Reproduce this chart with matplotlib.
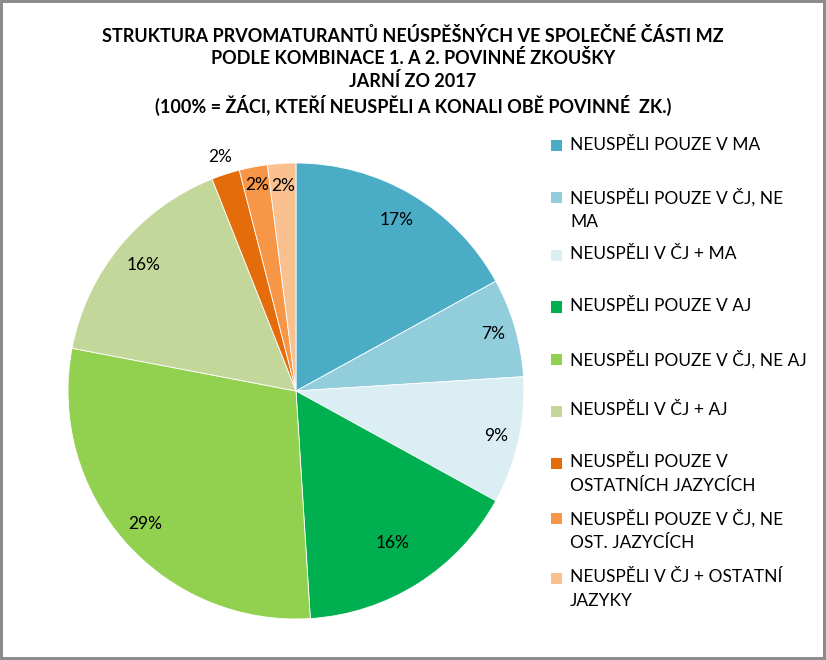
import numpy as np
import matplotlib.pyplot as plt

plt.rcParams['font.family'] = ['Lato', 'DejaVu Sans']

# data
labels = ['NEUSPĚLI POUZE V MA', 'NEUSPĚLI POUZE V ČJ, NE\nMA', 'NEUSPĚLI V ČJ + MA',
          'NEUSPĚLI POUZE V AJ', 'NEUSPĚLI POUZE V ČJ, NE AJ', 'NEUSPĚLI V ČJ + AJ',
          'NEUSPĚLI POUZE V\nOSTATNÍCH JAZYCÍCH', 'NEUSPĚLI POUZE V ČJ, NE\nOST. JAZYCÍCH',
          'NEUSPĚLI V ČJ + OSTATNÍ\nJAZYKY']
values = [17, 7, 9, 16, 29, 16, 2, 2, 2]
colors = ['#4BACC6', '#92CDDC', '#DAEEF3', '#00B050', '#92D050', '#C4D79B',
          '#E46C0A', '#F79646', '#FAC090']
pct_labels = ['17%', '7%', '9%', '16%', '29%', '16%', '2%', '2%', '2%']
label_r = [0.87, 0.9, 0.9, 0.79, 0.88, 0.87, 1.08, 0.92, 0.9]
legend_y = [146, 197, 255, 307, 359, 411, 463, 518, 578]  # px from top, first line centre

W, H = 826, 660
fig = plt.figure(figsize=(W/100, H/100), dpi=100, linewidth=3, edgecolor='#8c8c8c')

title = ('STRUKTURA PRVOMATURANTŮ NEÚSPĚŠNÝCH VE SPOLEČNÉ ČÁSTI MZ\n'
         'PODLE KOMBINACE 1. A 2. POVINNÉ ZKOUŠKY\n'
         'JARNÍ ZO 2017\n'
         '(100% = ŽÁCI, KTEŘÍ NEUSPĚLI A KONALI OBĚ POVINNÉ  ZK.)')
fig.text(413/W, 1 - 27/H, title, ha='center', va='top', fontsize=13,
         fontweight='bold', linespacing=1.3)

ax = fig.add_axes([68/W, 41/H, 456/W, 456/H])
wedges, _ = ax.pie(values, colors=colors, startangle=90, counterclock=False,
                   wedgeprops=dict(edgecolor='white', linewidth=0.6))
ax.set_xlim(-1, 1)
ax.set_ylim(-1, 1)
ax.set_aspect('equal')

for w, txt, r in zip(wedges, pct_labels, label_r):
    ang = np.deg2rad((w.theta1 + w.theta2) / 2)
    ax.text(r*np.cos(ang), r*np.sin(ang), txt, ha='center', va='center', fontsize=12.5)

for lab, c, y in zip(labels, colors, legend_y):
    fig.patches.append(plt.Rectangle((551/W, 1 - (y + 5.5)/H), 11/W, 11/H,
                                     facecolor=c, transform=fig.transFigure))
    fig.text(570/W, 1 - (y - 9)/H, lab, ha='left', va='top', fontsize=12.5,
             linespacing=1.58, transform=fig.transFigure)

plt.savefig('out.png', dpi=100)
